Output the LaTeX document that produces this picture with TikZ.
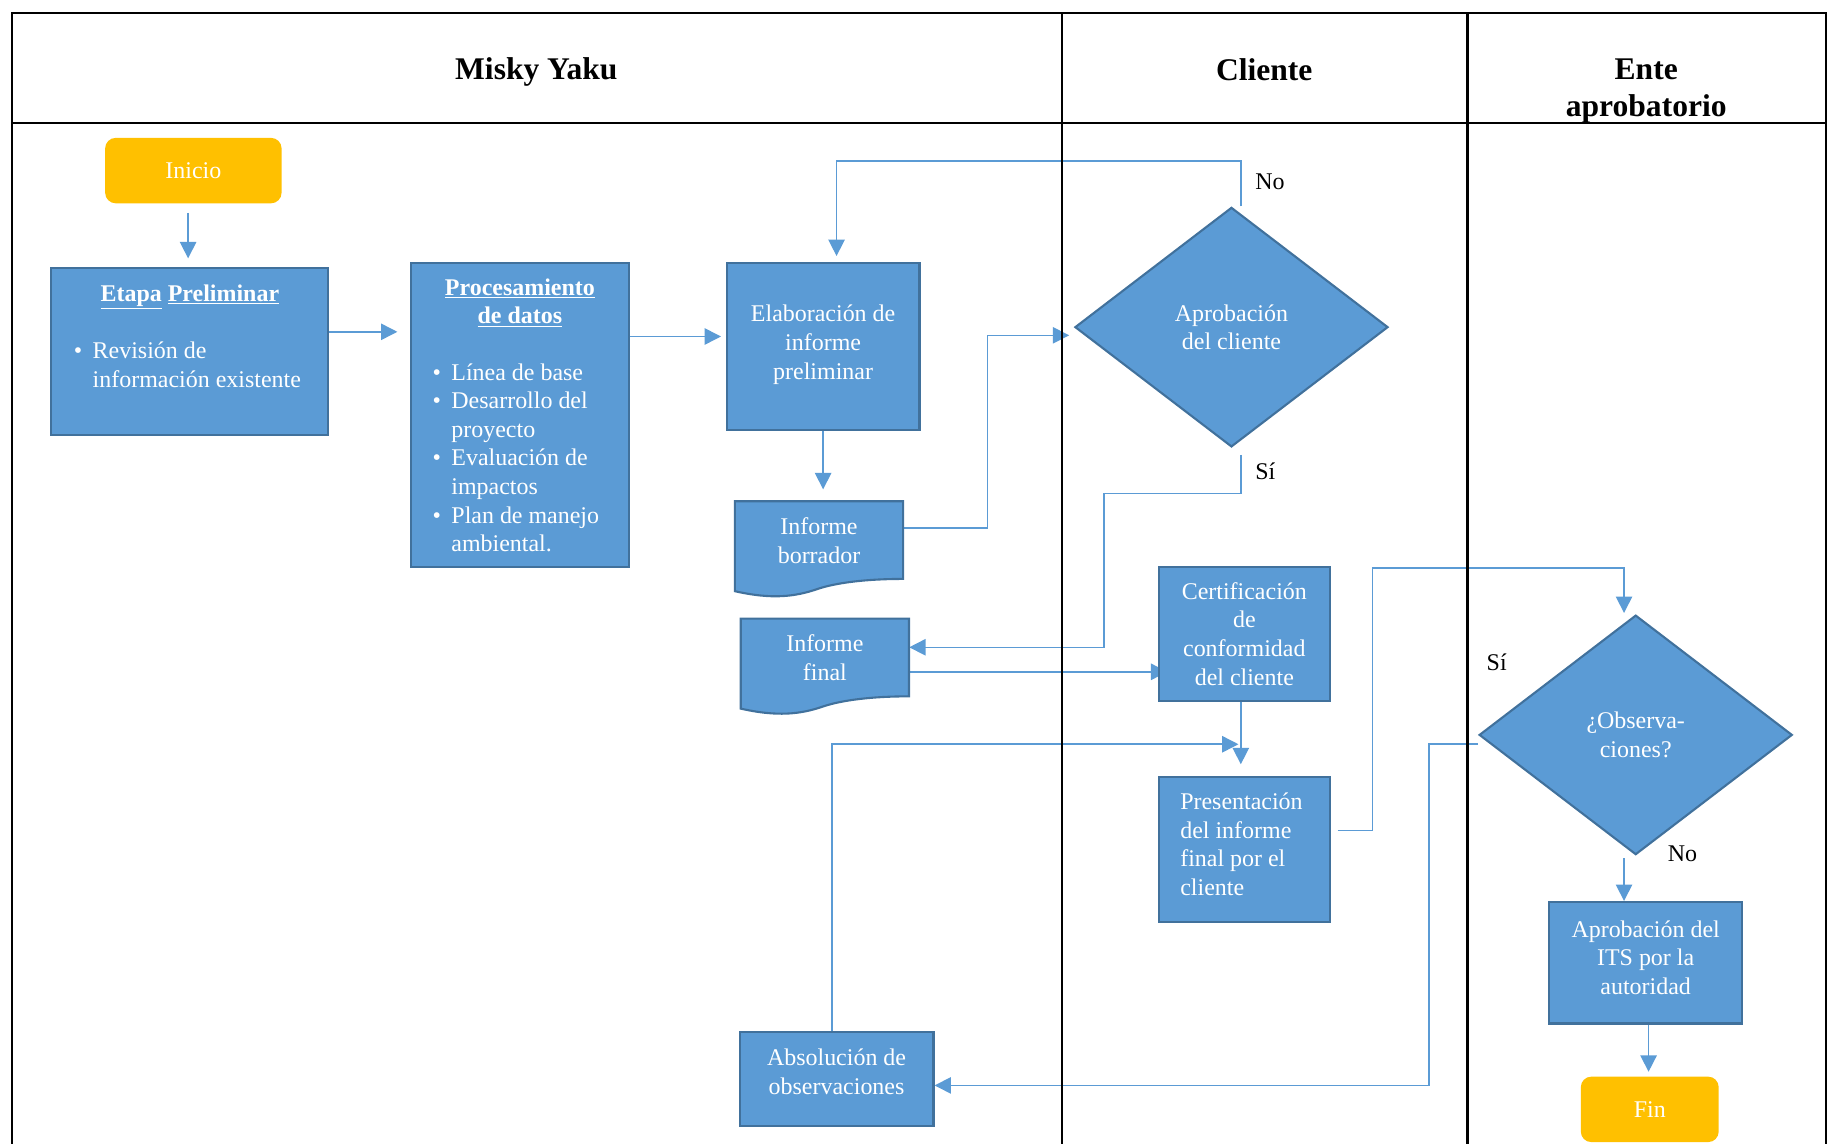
\documentclass[tikz,border=0pt]{standalone}
\usepackage{fontspec}
\setmainfont{Liberation Serif}
\usetikzlibrary{shapes.geometric,arrows.meta,calc}
\pgfdeclarelayer{links}
\pgfdeclarelayer{docs}
\pgfsetlayers{links,docs,main}

\definecolor{flowblue}{HTML}{5B9BD5}
\definecolor{flowedge}{HTML}{41719C}
\definecolor{startgold}{HTML}{FFC000}

\tikzset{
  bodyfont/.style={font=\fontsize{20.5}{24.5}\selectfont},
  procbox/.style={draw=flowedge, line width=1.8pt, fill=flowblue, inner sep=0pt},
  docshape/.style={draw=flowedge, line width=1.8pt, fill=flowblue},
  termbox/.style={fill=startgold, rounded corners=9pt, inner sep=0pt, text=white, bodyfont},
  decision/.style={diamond, aspect=1.3, draw=flowedge, line width=1.8pt, fill=flowblue,
    inner sep=0pt, text=white, bodyfont, align=center},
  boxtext/.style={text=white, bodyfont, align=center, inner sep=0pt},
  titletext/.style={text=white, font=\fontsize{20.5}{24.5}\selectfont\bfseries, align=center, inner sep=0pt},
  link/.style={draw=flowblue, line width=1.3pt, -{Triangle[length=14pt,width=14pt]}},
  lanerule/.style={line width=2pt, draw=black},
  lanehead/.style={font=\fontsize{27}{31}\selectfont\bfseries, align=center, inner sep=0pt},
  answer/.style={bodyfont, text=black, inner sep=0pt},
}

\begin{document}
\begin{tikzpicture}[x=1pt,y=-1pt]
\useasboundingbox (0,0) rectangle (1568,979);

% swimlane frame
\draw[lanerule] (10,980) -- (10,11) -- (1563,11) -- (1563,980);
\draw[lanerule] (10,105) -- (1563,105);
\draw[lanerule] (909,11) -- (909,980);
\draw[lanerule] (1256,11) -- (1256,980);

\node[lanehead] (hMisky) at (459,62) {Misky Yaku};
\node[lanehead] (hCliente) at (1082,60) {Cliente};
\node[lanehead] (hEnte) at (1409,78) {Ente\\aprobatorio};

% Misky Yaku lane
\node[termbox, minimum width=151pt, minimum height=56pt] (inicio) at (165.5,146) {Inicio};

\node[procbox, minimum width=237pt, minimum height=143pt] (etapa) at (162.5,300.5) {};
\node[titletext] (etapaT) at (162.5,254) {\underline{Etapa} \underline{Preliminar}};
\node[boxtext, anchor=north west, align=left] (etapaL) at (63,289.9)
  {\begin{tabular}[t]{@{}l@{\hspace{9pt}}l@{}}\textbullet & Revisión de\\ & información existente\end{tabular}};

\node[procbox, minimum width=186pt, minimum height=260pt] (proc) at (445,355) {};
\node[titletext] (procT) at (445,259) {\underline{Procesamiento}\\\underline{de datos}};
\node[boxtext, anchor=north west, align=left] (procL) at (370,307.9)
  {\begin{tabular}[t]{@{}l@{\hspace{9pt}}l@{}}
   \textbullet & Línea de base\\
   \textbullet & Desarrollo del\\
               & proyecto\\
   \textbullet & Evaluación de\\
               & impactos\\
   \textbullet & Plan de manejo\\
               & ambiental.
   \end{tabular}};

\node[procbox, minimum width=165pt, minimum height=143pt] (elab) at (704.5,296.5) {};
\node[boxtext] (elabT) at (704.5,295) {Elaboración de\\informe\\preliminar};

% document sheets with wavy lower edge
\node[inner sep=0pt, minimum width=144pt, minimum height=76pt] (borr) at (701,467) {};
\node[inner sep=0pt, minimum width=144pt, minimum height=71pt] (infin) at (706,564.5) {};
\begin{pgfonlayer}{docs}
  \foreach \dx/\dy in {0/0, 5/100.5}{
    \begin{scope}[shift={(\dx,\dy)}]
      \path[docshape] (629,429) -- (773,429) -- (773,495.5)
        .. controls (740,495.5) and (715,499) .. (700,504)
        .. controls (680,511) and (660,513) .. (629,506) -- cycle;
    \end{scope}
  }
\end{pgfonlayer}
\node[boxtext] (borrT) at (701,463) {Informe\\borrador};
\node[boxtext] (infinT) at (706,563) {Informe\\final};

\node[procbox, minimum width=166pt, minimum height=81pt] (abs) at (716,923.5) {};
\node[boxtext] (absT) at (716,917.5) {Absolución de\\observaciones};

% Cliente lane
\node[decision, minimum width=268pt, minimum height=205pt] (aprob) at (1054,280) {Aprobación\\del cliente};

\node[procbox, boxtext, minimum width=146pt, minimum height=115pt] (cert) at (1065,542.5)
  {Certificación\\de\\conformidad\\del cliente};

\node[procbox, minimum width=146pt, minimum height=124pt] (pres) at (1065,727) {};
\node[boxtext, align=left, anchor=west] (presT) at (1010,722.5) {Presentación\\del informe\\final por el\\cliente};

% Ente aprobatorio lane
\node[decision, minimum width=268pt, minimum height=205pt] (obs) at (1400,629) {¿Observa-\\ciones?};

\node[procbox, minimum width=165pt, minimum height=104pt] (its) at (1408.5,824) {};
\node[boxtext] (itsT) at (1408.5,819.5) {Aprobación del\\ITS por la\\autoridad};

\node[termbox, minimum width=118pt, minimum height=56pt] (fin) at (1412,949.5) {Fin};

% branch labels
\node[answer] (noA) at (1087,156) {No};
\node[answer] (siA) at (1083,403) {Sí};
\node[answer] (siB) at (1281,567) {Sí};
\node[answer] (noB) at (1440,731) {No};

\coordinate (merge) at (1062,637);

% connectors
\begin{pgfonlayer}{links}
  \draw[link, shorten <=8pt, shorten >=7pt] ([xshift=-4.5pt]inicio.south) -- ([xshift=-4.5pt]inicio.south |- etapa.north);
  \draw[link, shorten >=11pt] ([yshift=16.5pt]etapa.east) -- ([yshift=16.5pt]etapa.east -| proc.west);
  \draw[link, shorten >=4pt] ([yshift=67pt]proc.east) -- ([yshift=67pt]proc.east -| elab.west);
  \draw[link, shorten >=10pt] (elab.south) -- (elab.south |- borr.north);
  \draw[link, shorten >=4pt] ([yshift=15pt]borr.east) -- ++(72,0) |- ([yshift=-7pt]aprob.west);
  \draw[link, shorten >=5pt] ([xshift=8pt]aprob.north) -- ++(0,-39) -| ([xshift=11.5pt]elab.north);
  \draw[link, shorten <=6pt] ([xshift=8pt]aprob.south) -- ++(0,39) -- ++(-117,0) |- ([yshift=10.5pt]infin.east);
  \draw[link, shorten >=-8pt] ([yshift=-10.5pt]infin.east) -- ([yshift=-10.5pt]infin.east -| cert.west);
  \draw[link, shorten >=10pt] ([xshift=-3pt]cert.south) -- ([xshift=-3pt]pres.north);
  \draw[link, shorten >=2pt] ([xshift=-4pt]abs.north) |- (merge);
  \draw[link, shorten <=6pt, shorten >=1pt] ([yshift=16pt]pres.east) -| ++(36,-225) -| ([xshift=-10pt]obs.north);
  \draw[link] ([yshift=-8pt]obs.west) -- ++(-42,0) |- ([yshift=-5.5pt]abs.east);
  \draw[link, shorten <=2pt] ([xshift=-10pt]obs.south) -- ([xshift=-10pt]obs.south |- its.north);
  \draw[link, shorten >=4pt] ([xshift=2.5pt]its.south) -- ([xshift=2.5pt]its.south |- fin.north);
\end{pgfonlayer}
\end{tikzpicture}
\end{document}
